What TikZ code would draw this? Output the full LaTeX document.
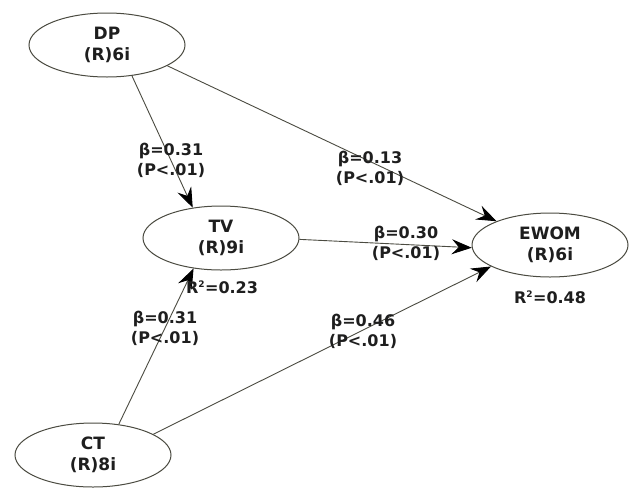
\documentclass[tikz,border=0pt]{standalone}
\usepackage{fontspec}
\setmainfont{DejaVu Sans}
\usetikzlibrary{shapes.geometric,arrows.meta}
\definecolor{linegray}{RGB}{75,75,65}
\definecolor{txt}{RGB}{30,30,30}
\tikzset{
  x=1pt,y=-1pt,
  lv/.style={ellipse,draw=linegray,line width=1pt,minimum width=156pt,minimum height=64pt,inner sep=0pt,
     align=center,font=\fontsize{17}{21}\selectfont\bfseries,text=txt},
  lbl/.style={align=center,font=\fontsize{16}{20}\selectfont\bfseries,text=txt,inner sep=0pt},
  arr/.style={draw=linegray,line width=0.9pt,-{Stealth[length=20pt,width=15pt,inset=7pt,color=black]}},
  ln/.style={draw=linegray,line width=0.9pt}
}
\begin{document}
\begin{tikzpicture}
\useasboundingbox[fill=white] (0,0) rectangle (632,491);
\node[lv] (dp) at (107,45) {DP\\(R)6i};
\node[lv] (tv) at (221,238) {TV\\(R)9i};
\node[lv] (ewom) at (550,245) {EWOM\\(R)6i};
\node[lv] (ct) at (93,455) {CT\\(R)8i};

\draw[arr] (dp.-51) -- (tv.133);
\draw[arr] (dp.-19) -- (ewom.156);
\draw[arr] (tv.-1) -- (ewom.182);
\draw[arr] (ct.50) -- (tv.228);
\draw[arr] (ct.19.5) -- (ewom.200);

\node[lbl] (l1) at (171,160) {β=0.31\\(P<.01)};
\node[lbl] (l2) at (370,168) {β=0.13\\(P<.01)};
\node[lbl] (l3) at (406,243) {β=0.30\\(P<.01)};
\node[lbl] (l4) at (165,328) {β=0.31\\(P<.01)};
\node[lbl] (l5) at (363,331) {β=0.46\\(P<.01)};
\node[lbl] (r1) at (222,287) {R\textsuperscript{\fontsize{9}{9}\selectfont 2}=0.23};
\node[lbl] (r2) at (550,297) {R\textsuperscript{\fontsize{9}{9}\selectfont 2}=0.48};
\end{tikzpicture}
\end{document}
